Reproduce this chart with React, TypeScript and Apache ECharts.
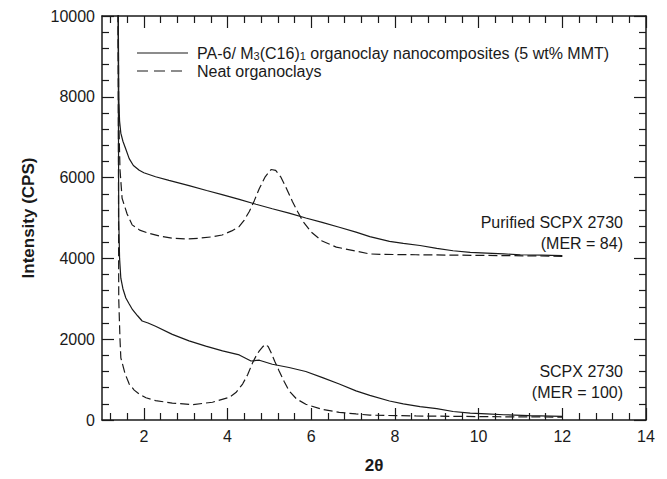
import React, { useEffect, useRef } from "react";
import * as echarts from "echarts";

// Purified SCPX 2730 – PA-6 nanocomposite (solid)
const purSolidX = [1.38, 1.40, 1.42, 1.45, 1.5, 1.57, 1.65, 1.75, 1.89, 2.0, 2.28, 2.6, 3.08, 3.5, 3.87, 4.28, 4.68, 5.07, 5.47, 5.87, 6.26, 6.67, 7.07, 7.4, 7.87, 8.2, 8.6, 9.0, 9.39, 9.8, 10.19, 10.6, 11.0, 11.5, 12.0];
const purSolidY = [12000, 8000, 7400, 7100, 6900, 6700, 6470, 6300, 6180, 6120, 6020, 5930, 5800, 5680, 5580, 5460, 5340, 5230, 5120, 5000, 4890, 4770, 4650, 4540, 4420, 4370, 4320, 4250, 4190, 4150, 4130, 4110, 4090, 4080, 4070];

// Purified SCPX 2730 – neat organoclay (dashed)
const purDashX = [1.38, 1.40, 1.43, 1.48, 1.6, 1.72, 1.9, 2.12, 2.4, 2.67, 3.0, 3.32, 3.6, 3.87, 4.1, 4.28, 4.4, 4.52, 4.64, 4.76, 4.9, 5.04, 5.15, 5.27, 5.4, 5.55, 5.68, 5.8, 6.0, 6.26, 6.6, 7.07, 7.4, 7.7, 8.5, 9.5, 10.5, 11.5, 12.0];
const purDashY = [12000, 7500, 6200, 5490, 5100, 4830, 4700, 4620, 4550, 4500, 4480, 4500, 4530, 4580, 4680, 4790, 4950, 5160, 5430, 5730, 6020, 6200, 6180, 6020, 5750, 5410, 5150, 4920, 4650, 4430, 4280, 4180, 4110, 4100, 4090, 4080, 4070, 4060, 4050];

// SCPX 2730 – PA-6 nanocomposite (solid)
const scpSolidX = [1.38, 1.40, 1.42, 1.45, 1.5, 1.57, 1.65, 1.73, 1.85, 1.96, 2.1, 2.28, 2.68, 3.08, 3.48, 3.88, 4.28, 4.56, 4.76, 5.07, 5.47, 5.87, 6.27, 6.67, 7.07, 7.4, 7.87, 8.2, 8.6, 9.0, 9.39, 9.8, 10.19, 10.6, 11.2, 12.0];
const scpSolidY = [12000, 5000, 4000, 3510, 3250, 3020, 2870, 2730, 2580, 2450, 2400, 2320, 2120, 1960, 1830, 1710, 1610, 1460, 1480, 1380, 1300, 1200, 1050, 890, 720, 610, 470, 400, 330, 280, 210, 170, 150, 130, 110, 90];

// SCPX 2730 – neat organoclay (dashed)
const scpDashX = [1.38, 1.40, 1.43, 1.45, 1.55, 1.65, 1.77, 1.89, 2.05, 2.28, 2.68, 3.16, 3.64, 4.04, 4.2, 4.36, 4.48, 4.6, 4.7, 4.76, 4.83, 4.9, 4.97, 5.04, 5.13, 5.23, 5.35, 5.47, 5.65, 5.87, 6.27, 6.67, 7.07, 7.4, 8.5, 9.5, 10.5, 11.5, 12.0];
const scpDashY = [12000, 3000, 2000, 1540, 1150, 890, 740, 640, 550, 480, 420, 380, 440, 560, 680, 890, 1120, 1420, 1620, 1710, 1800, 1870, 1820, 1670, 1450, 1220, 960, 720, 520, 390, 260, 190, 150, 120, 100, 90, 80, 75, 70];

const xMajorTicks = [2, 4, 6, 8, 10, 12, 14];
const yTickLabels = [0, 2000, 4000, 6000, 8000, 10000];

const legendSolid = "{n|PA-6/ M}{s|3}{n|(C16)}{s|1}{n| organoclay nanocomposites (5 wt% MMT)}";
const legendDashed = "Neat organoclays";
const annoPurified = ["Purified SCPX 2730", "(MER = 84)"];
const annoScpx = ["SCPX 2730", "(MER = 100)"];

const FONT = "'Liberation Sans', Arial, Helvetica, sans-serif";
const INK = "#1a1a1a";

function pairs(xs: number[], ys: number[]) {
  return xs.map((x, i) => [x, ys[i]]);
}

export default function App() {
  const ref = useRef<HTMLDivElement>(null);

  useEffect(() => {
    document.body.style.margin = "0";
    if (!ref.current) return;
    const chart = echarts.init(ref.current, undefined, { renderer: "svg" });

    const xMinorTicks: number[] = [];
    for (let k = 3; k <= 35; k++) {
      const v = Math.round(k * 0.4 * 10) / 10;
      if (v > 1 && v < 14 && Math.abs(v / 2 - Math.round(v / 2)) > 1e-6) xMinorTicks.push(v);
    }

    const axisLine = { show: true, lineStyle: { color: INK, width: 1.5 } };
    const tickStyle = { color: INK, width: 1.2 };

    const xBase = { type: "value", min: 1, max: 14, splitLine: { show: false } };
    const yBase = {
      type: "value",
      min: 0,
      max: 10000,
      interval: 2000,
      splitLine: { show: false },
      minorSplitLine: { show: false },
    };

    const lineSeries = (name: string, data: number[][], dashed: boolean) => ({
      name,
      type: "line",
      data,
      showSymbol: false,
      symbol: "none",
      clip: true,
      silent: true,
      lineStyle: { color: INK, width: 1.2, type: dashed ? [9, 4] : "solid" },
      xAxisIndex: 0,
      yAxisIndex: 0,
    });

    const textEl = (x: number, y: number, text: string, align: string) => ({
      type: "text",
      x,
      y,
      silent: true,
      style: { text, fontSize: 16, fontFamily: FONT, fill: INK, verticalAlign: "middle", align },
    });

    const option = {
      animation: false,
      backgroundColor: "#ffffff",
      grid: { left: 102, right: 21, top: 16, bottom: 56, containLabel: false },
      xAxis: [
        {
          ...xBase,
          position: "bottom",
          axisLine,
          axisTick: { show: true, inside: true, length: 12, lineStyle: tickStyle, customValues: xMajorTicks },
          axisLabel: {
            show: true,
            customValues: xMajorTicks,
            fontSize: 16,
            color: INK,
            fontFamily: FONT,
            margin: 8,
          },
          name: "2θ",
          nameLocation: "middle",
          nameGap: 37,
          nameTextStyle: { fontSize: 17, fontWeight: "bold", color: INK, fontFamily: FONT },
        },
        {
          ...xBase,
          position: "bottom",
          axisLine: { show: false },
          axisTick: { show: true, inside: true, length: 7, lineStyle: tickStyle, customValues: xMinorTicks },
          axisLabel: { show: false },
        },
        {
          ...xBase,
          position: "top",
          axisLine,
          axisTick: { show: true, inside: true, length: 12, lineStyle: tickStyle, customValues: xMajorTicks },
          axisLabel: { show: false },
        },
        {
          ...xBase,
          position: "top",
          axisLine: { show: false },
          axisTick: { show: true, inside: true, length: 7, lineStyle: tickStyle, customValues: xMinorTicks },
          axisLabel: { show: false },
        },
      ],
      yAxis: [
        {
          ...yBase,
          position: "left",
          axisLine,
          axisTick: { show: true, inside: true, length: 12, lineStyle: tickStyle },
          minorTick: { show: true, splitNumber: 5, length: 7, lineStyle: tickStyle },
          axisLabel: {
            show: true,
            fontSize: 16,
            color: INK,
            fontFamily: FONT,
            margin: 7,
            formatter: (v: number) => (yTickLabels.includes(v) ? String(v) : ""),
          },
          name: "Intensity (CPS)",
          nameLocation: "middle",
          nameGap: 65,
          nameRotate: 90,
          nameTextStyle: { fontSize: 17, fontWeight: "bold", color: INK, fontFamily: FONT },
        },
        {
          ...yBase,
          position: "right",
          axisLine,
          axisTick: { show: true, inside: true, length: 12, lineStyle: tickStyle },
          minorTick: { show: true, splitNumber: 5, length: 7, lineStyle: tickStyle },
          axisLabel: { show: false },
        },
      ],
      series: [
        lineSeries("Purified nanocomposite", pairs(purSolidX, purSolidY), false),
        lineSeries("Purified neat organoclay", pairs(purDashX, purDashY), true),
        lineSeries("SCPX nanocomposite", pairs(scpSolidX, scpSolidY), false),
        lineSeries("SCPX neat organoclay", pairs(scpDashX, scpDashY), true),
      ],
      graphic: [
        {
          type: "line",
          shape: { x1: 137, y1: 53, x2: 188, y2: 53 },
          style: { stroke: INK, lineWidth: 1.2 },
          silent: true,
        },
        {
          type: "line",
          shape: { x1: 137, y1: 71, x2: 188, y2: 71 },
          style: { stroke: INK, lineWidth: 1.2, lineDash: [11, 6] },
          silent: true,
        },
        {
          type: "text",
          x: 197,
          y: 53,
          silent: true,
          style: {
            text: legendSolid,
            verticalAlign: "middle",
            align: "left",
            fill: INK,
            rich: {
              n: { fontSize: 16, fontFamily: FONT, fill: INK, lineHeight: 17, verticalAlign: "middle" },
              s: { fontSize: 11, fontFamily: FONT, fill: INK, lineHeight: 5, verticalAlign: "bottom" },
            },
          },
        },
        textEl(197, 71, legendDashed, "left"),
        textEl(623, 222, annoPurified[0], "right"),
        textEl(623, 243, annoPurified[1], "right"),
        textEl(623, 371, annoScpx[0], "right"),
        textEl(623, 392, annoScpx[1], "right"),
      ],
    };

    chart.setOption(option as any);
    return () => chart.dispose();
  }, []);

  return <div ref={ref} style={{ width: 667, height: 479 }} />;
}
